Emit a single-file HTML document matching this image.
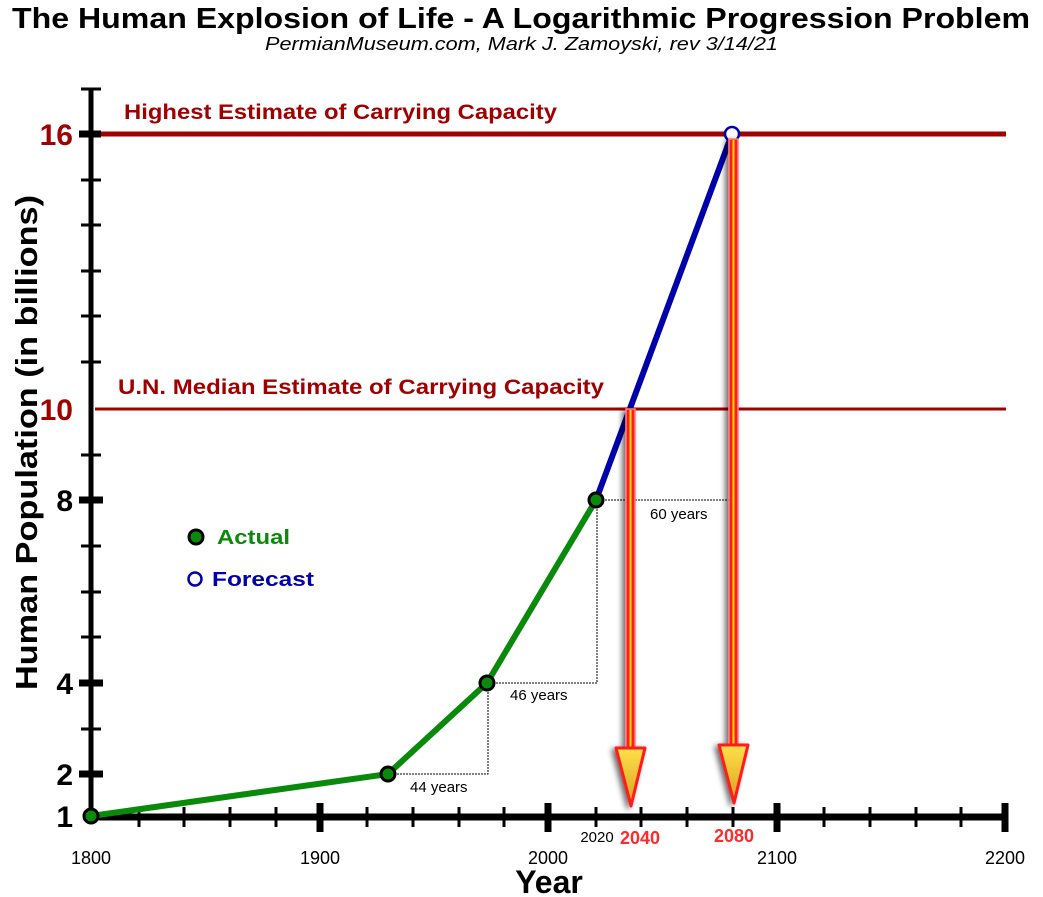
<!DOCTYPE html>
<html><head><meta charset="utf-8"><style>
html,body{margin:0;padding:0;background:#fff;}
svg{display:block;font-family:"Liberation Sans",Arial,sans-serif;}
</style></head><body>
<svg width="1043" height="897" viewBox="0 0 1043 897" xmlns="http://www.w3.org/2000/svg">
<defs>
<linearGradient id="hg" x1="0" y1="0" x2="0" y2="1"><stop offset="0" stop-color="#ffe04a"/><stop offset="1" stop-color="#d9a020"/></linearGradient>
<filter id="sh" x="-50%" y="-10%" width="200%" height="120%"><feGaussianBlur in="SourceAlpha" stdDeviation="3"/><feOffset dx="-3" dy="2"/><feComponentTransfer><feFuncA type="linear" slope="0.6"/></feComponentTransfer><feMerge><feMergeNode/><feMergeNode in="SourceGraphic"/></feMerge></filter>
</defs>
<text x="12" y="28" font-size="29" font-weight="bold" fill="#000" textLength="1018" lengthAdjust="spacingAndGlyphs">The Human Explosion of Life - A Logarithmic Progression Problem</text>
<text x="265" y="50" font-size="18" font-style="italic" fill="#000" textLength="513" lengthAdjust="spacingAndGlyphs">PermianMuseum.com, Mark J. Zamoyski, rev 3/14/21</text>

<line x1="95" y1="134" x2="1006" y2="134" stroke="#a00000" stroke-width="5"/>
<line x1="95" y1="409" x2="1006" y2="409" stroke="#a00000" stroke-width="3"/>
<text x="124" y="119" font-size="21" font-weight="bold" fill="#a00000" textLength="433" lengthAdjust="spacingAndGlyphs">Highest Estimate of Carrying Capacity</text>
<text x="118" y="394" font-size="21" font-weight="bold" fill="#a00000" textLength="486" lengthAdjust="spacingAndGlyphs">U.N. Median Estimate of Carrying Capacity</text>

<line x1="91" y1="89" x2="91" y2="819" stroke="#000" stroke-width="5"/>
<g stroke="#000" stroke-width="3">
<line x1="81" y1="89" x2="101" y2="89"/>
<line x1="81" y1="180" x2="101" y2="180"/>
<line x1="81" y1="225" x2="101" y2="225"/>
<line x1="81" y1="271" x2="101" y2="271"/>
<line x1="81" y1="316" x2="101" y2="316"/>
<line x1="81" y1="362" x2="101" y2="362"/>
<line x1="81" y1="455" x2="101" y2="455"/>
<line x1="81" y1="546" x2="101" y2="546"/>
<line x1="81" y1="592" x2="101" y2="592"/>
<line x1="81" y1="637" x2="101" y2="637"/>
<line x1="81" y1="729" x2="101" y2="729"/>
</g>
<g stroke="#000" stroke-width="7">
<line x1="79" y1="134" x2="101" y2="134"/>
<line x1="79" y1="500" x2="103" y2="500"/>
<line x1="79" y1="683" x2="103" y2="683"/>
<line x1="79" y1="774" x2="103" y2="774"/>
</g>
<g font-size="30" font-weight="bold" text-anchor="end">
<text x="73" y="145" fill="#a00000">16</text>
<text x="73" y="420" fill="#a00000">10</text>
<text x="73" y="511" fill="#000">8</text>
<text x="73" y="694" fill="#000">4</text>
<text x="73" y="785" fill="#000">2</text>
<text x="73" y="827" fill="#000">1</text>
</g>
<text transform="translate(37,690) rotate(-90)" font-size="31" font-weight="bold" fill="#000" textLength="495" lengthAdjust="spacingAndGlyphs">Human Population (in billions)</text>

<line x1="89" y1="817" x2="1008" y2="817" stroke="#000" stroke-width="7"/>
<g stroke="#000" stroke-width="3">
<line x1="139" y1="807" x2="139" y2="827"/><line x1="184" y1="807" x2="184" y2="827"/><line x1="230" y1="807" x2="230" y2="827"/><line x1="276" y1="807" x2="276" y2="827"/>
<line x1="367" y1="807" x2="367" y2="827"/><line x1="413" y1="807" x2="413" y2="827"/><line x1="459" y1="807" x2="459" y2="827"/><line x1="504" y1="807" x2="504" y2="827"/>
<line x1="596" y1="807" x2="596" y2="827"/><line x1="641" y1="807" x2="641" y2="827"/><line x1="687" y1="807" x2="687" y2="827"/><line x1="733" y1="807" x2="733" y2="827"/>
<line x1="824" y1="807" x2="824" y2="827"/><line x1="870" y1="807" x2="870" y2="827"/><line x1="916" y1="807" x2="916" y2="827"/><line x1="961" y1="807" x2="961" y2="827"/>
</g>
<g stroke="#000" stroke-width="7">
<line x1="320" y1="803" x2="320" y2="832"/><line x1="548" y1="803" x2="548" y2="832"/><line x1="777" y1="803" x2="777" y2="832"/><line x1="1005" y1="803" x2="1005" y2="832"/>
</g>
<g font-size="18" text-anchor="middle" fill="#000">
<text x="91" y="864">1800</text><text x="320" y="864">1900</text><text x="548" y="864">2000</text><text x="777" y="864">2100</text><text x="1005" y="864">2200</text>
</g>
<text x="597" y="842" text-anchor="middle" font-size="15" fill="#000">2020</text>
<text x="640" y="844" text-anchor="middle" font-size="18" font-weight="bold" fill="#ff2a2a">2040</text>
<text x="734" y="842" text-anchor="middle" font-size="18" font-weight="bold" fill="#ff2a2a">2080</text>
<text x="549" y="893" text-anchor="middle" font-size="32" font-weight="bold" fill="#000">Year</text>

<g stroke="#000" stroke-width="1" stroke-dasharray="2,1" fill="none">
<polyline points="388,774 488,774 488,683"/>
<polyline points="487,683 597,683 597,500"/>
<line x1="596" y1="500" x2="732" y2="500"/>
</g>
<g font-size="15" fill="#000">
<text x="410" y="792">44 years</text>
<text x="510" y="700">46 years</text>
<text x="650" y="519">60 years</text>
</g>

<polyline points="91,816 388,774 487,683 596,500" stroke="#0a8a0a" stroke-width="6" fill="none"/>
<polyline points="596,500 732,134" stroke="#0000aa" stroke-width="6" fill="none"/>
<g fill="#0a8a0a" stroke="#000" stroke-width="3">
<circle cx="91" cy="816" r="7"/><circle cx="388" cy="774" r="7"/><circle cx="487" cy="683" r="7"/><circle cx="596" cy="500" r="7"/>
</g>
<circle cx="732" cy="134" r="7" fill="#fff" stroke="#0000aa" stroke-width="2.5"/>

<g filter="url(#sh)">
<rect x="626" y="409" width="9" height="340" fill="#ff1a1a" stroke="#ff8080" stroke-width="1.5"/>
<rect x="629.5" y="410" width="2" height="338" fill="#ffe000"/>
<polygon points="616,748 645,748 631,806" fill="url(#hg)" stroke="#ff1a1a" stroke-width="3" stroke-linejoin="round"/>
<rect x="729" y="139" width="9" height="610" fill="#ff1a1a" stroke="#ff8080" stroke-width="1.5"/>
<rect x="732.5" y="140" width="2" height="608" fill="#ffe000"/>
<polygon points="719,745 748,745 734,803" fill="url(#hg)" stroke="#ff1a1a" stroke-width="3" stroke-linejoin="round"/>
</g>

<circle cx="196" cy="537" r="7" fill="#0a8a0a" stroke="#000" stroke-width="3"/>
<text x="217" y="544" font-size="20" font-weight="bold" fill="#0a8a0a" textLength="73" lengthAdjust="spacingAndGlyphs">Actual</text>
<circle cx="195" cy="579" r="6.5" fill="#fff" stroke="#0000aa" stroke-width="2.5"/>
<text x="212" y="586" font-size="20" font-weight="bold" fill="#0000aa" textLength="102" lengthAdjust="spacingAndGlyphs">Forecast</text>
</svg>
</body></html>
